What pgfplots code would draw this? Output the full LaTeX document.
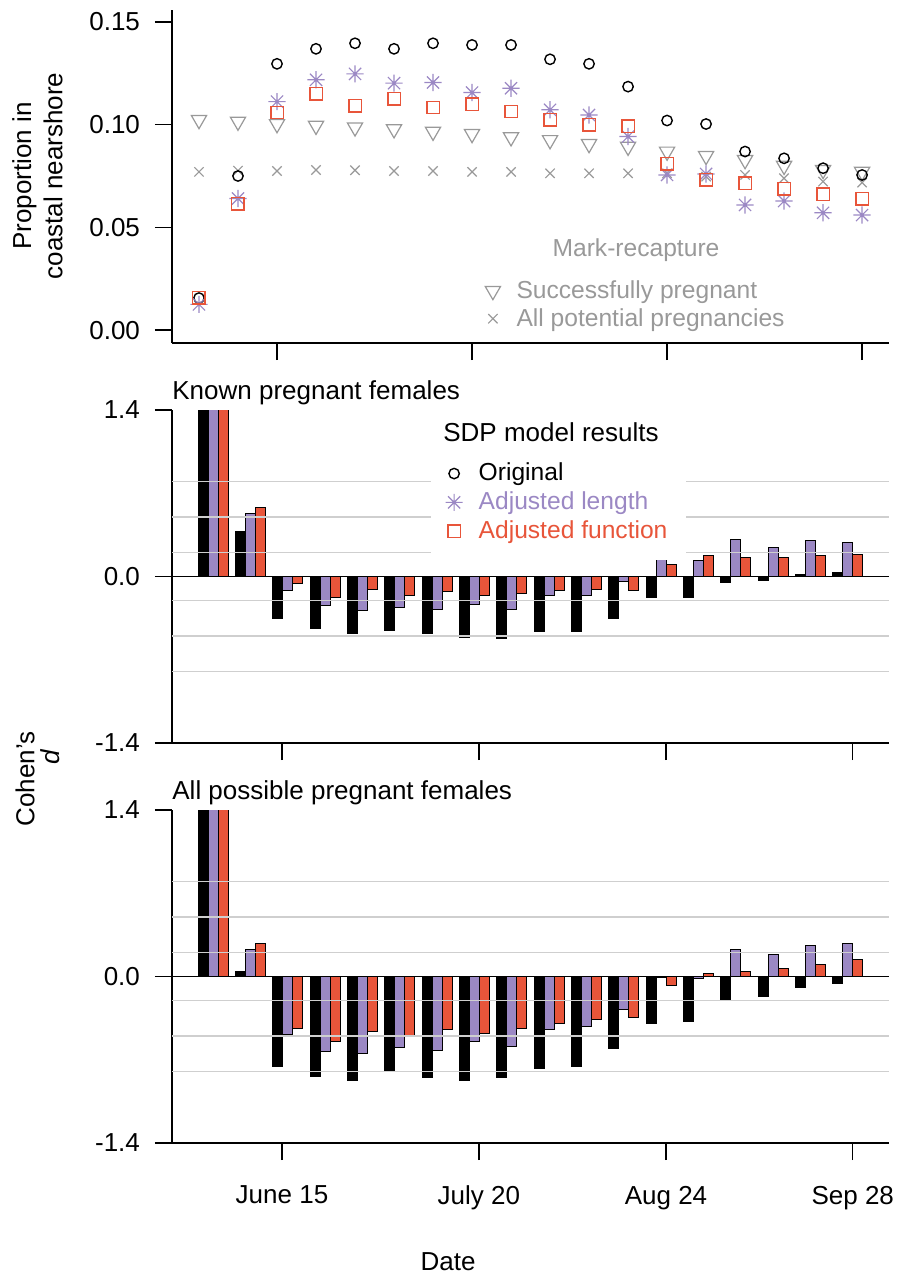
\documentclass[border=0pt]{standalone}
\usepackage{pgfplots}
\usepackage{pgfplotstable}
\pgfplotsset{compat=1.18}
\usepackage{fontspec}
\setmainfont{Liberation Sans}
\definecolor{pur}{HTML}{9B88C4}
\definecolor{myred}{HTML}{E8553A}
\definecolor{grayleg}{HTML}{999999}
\definecolor{gridc}{HTML}{CFCFCF}
\newcommand\fs{\fontsize{13}{15.6}\selectfont}
\newcommand\fl{\fontsize{12.3}{14.5}\selectfont}
\pgfdeclareplotmark{ast8}{%
  \pgfpathmoveto{\pgfqpoint{-\pgfplotmarksize}{0pt}}\pgfpathlineto{\pgfqpoint{\pgfplotmarksize}{0pt}}%
  \pgfpathmoveto{\pgfqpoint{0pt}{-\pgfplotmarksize}}\pgfpathlineto{\pgfqpoint{0pt}{\pgfplotmarksize}}%
  \pgfpathmoveto{\pgfqpoint{-0.707\pgfplotmarksize}{-0.707\pgfplotmarksize}}\pgfpathlineto{\pgfqpoint{0.707\pgfplotmarksize}{0.707\pgfplotmarksize}}%
  \pgfpathmoveto{\pgfqpoint{-0.707\pgfplotmarksize}{0.707\pgfplotmarksize}}\pgfpathlineto{\pgfqpoint{0.707\pgfplotmarksize}{-0.707\pgfplotmarksize}}%
  \pgfusepathqstroke}

\pgfplotstableread{
i orig adjl adjf succ allp
0 0.0156 0.0125 0.0157 0.1023 0.0770
1 0.0750 0.0640 0.0614 0.1015 0.0776
2 0.1296 0.1112 0.1059 0.1003 0.0774
3 0.1369 0.1218 0.1150 0.0995 0.0779
4 0.1396 0.1247 0.1091 0.0987 0.0778
5 0.1369 0.1202 0.1125 0.0978 0.0774
6 0.1396 0.1205 0.1083 0.0966 0.0774
7 0.1388 0.1156 0.1099 0.0955 0.0770
8 0.1388 0.1177 0.1064 0.0939 0.0770
9 0.1318 0.1072 0.1023 0.0925 0.0763
10 0.1296 0.1047 0.0999 0.0906 0.0763
11 0.1185 0.0942 0.0992 0.0893 0.0763
12 0.1020 0.0755 0.0809 0.0869 0.0763
13 0.1003 0.0760 0.0731 0.0848 0.0747
14 0.0869 0.0609 0.0714 0.0828 0.0755
15 0.0836 0.0628 0.0687 0.0800 0.0739
16 0.0788 0.0571 0.0662 0.0780 0.0723
17 0.0755 0.0560 0.0638 0.0771 0.0718
}\toptab

\pgfplotstableread{
i blk pu rd
0 1.6 1.6 1.6
1 0.377 0.531 0.578
2 -0.349 -0.117 -0.061
3 -0.439 -0.246 -0.176
4 -0.480 -0.285 -0.106
5 -0.453 -0.263 -0.159
6 -0.483 -0.274 -0.128
7 -0.511 -0.232 -0.159
8 -0.522 -0.274 -0.145
9 -0.465 -0.162 -0.117
10 -0.466 -0.162 -0.106
11 -0.352 -0.042 -0.117
12 -0.176 0.160 0.103
13 -0.176 0.131 0.173
14 -0.047 0.313 0.159
15 -0.034 0.246 0.159
16 0.017 0.302 0.173
17 0.031 0.288 0.187
}\knowntab

\pgfplotstableread{
i blk pu rd
0 1.6 1.6 1.6
1 0.045 0.226 0.274
2 -0.754 -0.489 -0.433
3 -0.838 -0.634 -0.550
4 -0.872 -0.648 -0.461
5 -0.802 -0.601 -0.503
6 -0.852 -0.620 -0.447
7 -0.872 -0.550 -0.480
8 -0.852 -0.592 -0.433
9 -0.777 -0.447 -0.391
10 -0.754 -0.419 -0.360
11 -0.606 -0.277 -0.346
12 -0.397 -0.005 -0.075
13 -0.377 -0.020 0.028
14 -0.201 0.226 0.042
15 -0.165 0.184 0.070
16 -0.095 0.260 0.098
17 -0.061 0.274 0.142
}\alltab

\begin{document}
\begin{tikzpicture}
\useasboundingbox (0pt,0pt) rectangle (455pt,-637pt);
\pgfplotsset{
 common/.style={scale only axis, width=358.5pt, height=166.5pt,
   axis x line*=bottom, axis y line*=left,
   axis line style={-, line width=0.9pt},
   tick align=outside, major tick length=8.5pt,
   tick style={line width=0.7pt, black},
   tick label style={font=\fs},
   yticklabel style={xshift=-4pt},
   xticklabel style={yshift=-9.5pt},
   /pgf/number format/assume math mode=true},
 barax/.style={common, xmin=-1.098, xmax=18.1, ymin=-1.4, ymax=1.4,
   ytick={-1.4,0,1.4}, yticklabels={-1.4,0.0,1.4},
   xtick={1.847,7.12,12.13,17.13},
   extra y ticks={-0.8,-0.5,-0.2,0.2,0.5,0.8},
   extra y tick labels={},
   extra y tick style={grid=major, major grid style={gridc, line width=0.7pt}, major tick length=0pt},
   axis on top},
 bk/.style={ybar, bar width=5pt, bar shift=-5pt, fill=black, draw=black, line width=0.5pt, forget plot},
 bp/.style={ybar, bar width=5pt, bar shift=0pt, fill=pur, draw=black, line width=0.5pt, forget plot},
 br/.style={ybar, bar width=5pt, bar shift=5pt, fill=myred, draw=black, line width=0.5pt, forget plot},
}
% ---------------- top panel
\begin{axis}[common, at={(86pt,-171.5pt)}, anchor=south west,
  xmin=-0.692, xmax=17.69, ymin=-0.0063, ymax=0.1558,
  xtick={2,7,12,17}, xticklabels={},
  ytick={0,0.05,0.10,0.15}, yticklabels={0.00,0.05,0.10,0.15},
  legend style={draw=none, fill=none, font=\fl, text=grayleg,
     at={(0.428,0.213)}, anchor=north west, row sep=-0.5pt,
     /tikz/every odd column/.append style={column sep=6pt}},
  legend cell align=left]
\addplot[only marks, mark=triangle, mark size=4.4pt, mark options={rotate=180}, draw=grayleg, line width=0.6pt] table[x=i,y=succ]{\toptab};
\addlegendentry{Successfully pregnant}
\addplot[only marks, mark=x, mark size=3.3pt, draw=grayleg, line width=0.6pt] table[x=i,y=allp]{\toptab};
\addlegendentry{All potential pregnancies}
\addplot[only marks, mark=o, mark size=2.6pt, draw=black, line width=0.7pt, forget plot] table[x=i,y=orig]{\toptab};
\addplot[only marks, mark=ast8, mark size=4.3pt, draw=pur, line width=0.6pt, forget plot] table[x=i,y=adjl]{\toptab};
\addplot[only marks, mark=square, mark size=3.1pt, draw=myred, line width=0.7pt, forget plot] table[x=i,y=adjf]{\toptab};
\end{axis}
\node[font=\fl, text=grayleg] at (318pt,-125pt) {Mark-recapture};
% ---------------- middle panel
\begin{axis}[barax, at={(86pt,-371.5pt)}, anchor=south west,
  xticklabels={},
  legend style={draw=none, fill=white, font=\fl,
     at={(0.360,0.5495)}, anchor=south west, row sep=0pt, inner xsep=7.5pt, inner ysep=7pt,
     /tikz/every odd column/.append style={column sep=6pt}},
  legend cell align=left]
\addplot[bk] table[x=i,y=blk]{\knowntab};
\addplot[bp] table[x=i,y=pu]{\knowntab};
\addplot[br] table[x=i,y=rd]{\knowntab};
\addplot[black, line width=0.6pt, forget plot] coordinates {(-1.098,0) (18.1,0)};
\addlegendimage{only marks, mark=o, mark size=2.6pt, draw=black, line width=0.7pt}
\addlegendentry{Original}
\addlegendimage{only marks, mark=ast8, mark size=4.3pt, draw=pur, line width=0.6pt}
\addlegendentry{\textcolor{pur}{Adjusted length}}
\addlegendimage{only marks, mark=square, mark size=3.1pt, draw=myred, line width=0.7pt}
\addlegendentry{\textcolor{myred}{Adjusted function}}
\end{axis}
\node[font=\fs] at (275.5pt,-216pt) {SDP model results};
\node[font=\fs, anchor=west, inner sep=0pt] at (86pt,-196.5pt) {Known pregnant females};
% ---------------- bottom panel
\begin{axis}[barax, at={(86pt,-571.5pt)}, anchor=south west,
  xticklabels={June 15,July 20,Aug 24,Sep 28}]
\addplot[bk] table[x=i,y=blk]{\alltab};
\addplot[bp] table[x=i,y=pu]{\alltab};
\addplot[br] table[x=i,y=rd]{\alltab};
\addplot[black, line width=0.6pt, forget plot] coordinates {(-1.098,0) (18.1,0)};
\end{axis}
\node[font=\fs, anchor=west, inner sep=0pt] at (86pt,-396.5pt) {All possible pregnant females};
% labels
\node[font=\fs, rotate=90, align=center] at (18.75pt,-88pt) {Proportion in\\coastal nearshore};
\node[font=\fs, rotate=90] at (12.5pt,-389.5pt) {Cohen's};
\node[font=\fs, rotate=90] at (25pt,-378.5pt) {\textit{d}};
\node[font=\fs] at (224pt,-631pt) {Date};
\end{tikzpicture}
\end{document}
